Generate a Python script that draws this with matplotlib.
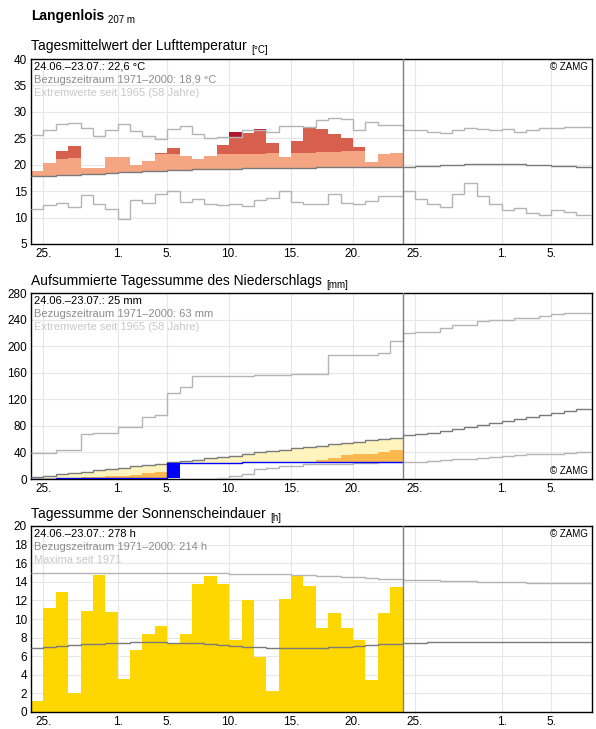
import matplotlib
matplotlib.use("Agg")
import matplotlib.pyplot as plt
import numpy as np

plt.rcParams['font.family'] = ['Liberation Sans', 'DejaVu Sans']

# ---------------- data ----------------
x_tick_pos = [1, 7, 11, 16, 21, 26, 31, 38, 42]
x_tick_lbl = ["25.", "1.", "5.", "10.", "15.", "20.", "25.", "1.", "5."]

temp_value = [18.9, 20.4, 22.5, 23.6, 19.4, 19.4, 21.5, 21.5, 20.0, 20.7, 22.2, 23.2, 21.65, 21.1, 21.65,
              23.8, 26.25, 26.05, 26.75, 24.1, 21.45, 24.4, 27.2, 26.75, 25.8, 25.05, 23.35, 20.5, 22.0, 22.2]
temp_upper = [18.9, 20.4, 21.1, 21.3, 19.4, 19.4, 21.5, 21.5, 20.0, 20.7, 22.0, 22.0, 21.65, 21.1, 21.65,
              22.0, 22.0, 22.0, 22.0, 22.2, 21.45, 22.2, 22.2, 22.4, 22.4, 22.6, 22.6, 20.5, 22.0, 22.2]
temp_mean = [17.9, 17.9, 18.0, 18.1, 18.2, 18.3, 18.4, 18.6, 18.7, 18.8, 18.9, 19.0, 19.0, 19.1, 19.1,
             19.2, 19.2, 19.3, 19.3, 19.3, 19.4, 19.4, 19.4, 19.5, 19.5, 19.5, 19.5, 19.5, 19.5, 19.5,
             19.6, 19.7, 19.8, 19.9, 20.0, 20.1, 20.1, 20.2, 20.2, 20.1, 20.0, 19.9, 19.8, 19.7, 19.6, 19.6]
temp_max = [25.6, 26.6, 27.7, 27.9, 26.9, 25.4, 26.6, 27.7, 26.4, 25.4, 24.9, 26.8, 27.3, 25.8, 25.0,
            25.3, 25.3, 26.6, 26.6, 26.2, 27.3, 27.3, 27.1, 28.4, 28.8, 28.6, 26.6, 28.1, 27.5, 27.5,
            26.6, 26.6, 26.2, 26.0, 26.5, 27.0, 26.8, 26.5, 26.8, 26.2, 26.5, 27.0, 27.0, 27.2, 27.2, 27.2]
temp_min = [11.6, 12.4, 12.8, 12.0, 14.3, 12.6, 11.6, 9.7, 13.3, 12.8, 14.5, 15.0, 12.9, 13.5, 12.6,
            12.4, 12.6, 12.2, 13.3, 13.7, 15.0, 12.9, 12.6, 12.6, 14.5, 12.8, 12.6, 13.1, 14.1, 14.1,
            15.0, 13.5, 12.5, 12.0, 14.5, 16.5, 14.0, 12.5, 11.5, 11.8, 10.8, 10.5, 11.5, 11.0, 10.5, 10.5]

prec_cum = [0, 0, 1, 1, 1, 1, 1, 1, 1, 1, 1, 24, 24, 24, 24, 24, 24, 25, 25, 25, 25, 25, 25, 25, 25,
            25, 25, 25, 25, 25]
prec_lower = [0, 0, 1.5, 2, 3, 3.5, 4.5, 5, 6, 8.5, 10.5, 12, 13, 14, 15, 16, 17, 18, 19, 21, 23,
              24, 24.5, 28, 32, 36, 38, 38, 40, 44]
prec_mean = [3, 5, 7, 9, 11, 13, 15, 17, 19, 21, 23, 25, 27, 29, 31, 33, 35, 38, 40, 42, 44, 46, 48,
             50, 52, 54, 56, 58, 60, 62, 66, 68, 70, 73, 76, 79, 82, 85, 88, 91, 94, 97, 100, 103, 105, 106]
prec_max = [39, 39, 43, 43, 67, 69, 69, 79, 79, 94, 96, 130, 138, 155, 155, 155, 155, 155, 156, 156,
            156, 158, 158, 158, 186, 186, 186, 186, 189, 207, 220, 222, 222, 228, 232, 232, 238, 240,
            240, 242, 242, 246, 248, 250, 250, 250]
prec_min = [0, 0, 0, 0, 0, 0, 0, 0, 0.5, 0.5, 0.5, 0.5, 0.5, 0.5, 0.5, 2, 5, 8, 15, 17, 20, 20, 22, 22,
            23, 23, 24, 24, 25, 26, 26, 26, 27, 28, 30, 30, 31, 33, 35, 36, 37, 37, 38, 39, 40, 40]

sun_value = [1.2, 11.2, 12.9, 2.0, 10.9, 14.7, 10.8, 3.5, 6.7, 8.4, 9.2, 7.3, 8.4, 13.8, 14.6, 13.8,
             7.7, 12.0, 5.9, 2.3, 12.1, 14.7, 13.5, 9.0, 10.6, 9.0, 7.7, 3.4, 10.6, 13.4]
sun_mean = [6.9, 7.0, 7.1, 7.2, 7.3, 7.3, 7.4, 7.4, 7.5, 7.5, 7.5, 7.4, 7.4, 7.4, 7.3, 7.2, 7.1, 7.0,
            7.0, 6.9, 6.9, 6.9, 6.9, 6.9, 7.0, 7.0, 7.1, 7.2, 7.3, 7.3, 7.4, 7.4, 7.5, 7.5, 7.5, 7.5,
            7.5, 7.5, 7.5, 7.5, 7.5, 7.5, 7.5, 7.5, 7.5, 7.5]
sun_max = [15.0, 15.0, 15.0, 15.0, 15.0, 15.0, 15.0, 15.0, 15.0, 15.0, 15.0, 14.9, 14.9, 14.9, 14.9,
           14.9, 14.8, 14.8, 14.8, 14.8, 14.8, 14.7, 14.7, 14.6, 14.6, 14.5, 14.5, 14.4, 14.3, 14.3,
           14.2, 14.2, 14.2, 14.1, 14.1, 14.1, 14.0, 14.0, 14.0, 14.0, 13.9, 13.9, 13.9, 13.9, 13.9, 13.9]

# ---------------- style ----------------
XMAX = 45.3
NOW = 30
C_MAXMIN = "#b4b4b4"
C_MEAN = "#7a7a7a"
LW = 1.0

fig = plt.figure(figsize=(5.96, 7.29), dpi=100)
W, H = 596, 729


def add_ax(top, bottom):
    return fig.add_axes([31 / W, 1 - bottom / H, (592 - 31) / W, (bottom - top) / H])


def style(ax, ylim, yticks):
    ax.set_xlim(0, XMAX)
    ax.set_ylim(*ylim)
    ax.set_yticks(yticks)
    ax.set_xticks(x_tick_pos)
    ax.set_xticklabels(x_tick_lbl)
    ax.grid(True, color="#e6e6e6", lw=0.8, zorder=0)
    ax.set_axisbelow(True)
    ax.tick_params(labelsize=8.5, length=0, pad=3)
    for s in ax.spines.values():
        s.set_linewidth(1.0)
    ax.axvline(NOW, color="#808080", lw=1.0, zorder=6)


def info(ax, l1, l2, l3):
    ax.text(0.006, 0.985, l1, transform=ax.transAxes, fontsize=8, va="top", color="black", zorder=7)
    ax.text(0.006, 0.915, l2, transform=ax.transAxes, fontsize=8, va="top", color="#8c8c8c", zorder=7)
    ax.text(0.006, 0.845, l3, transform=ax.transAxes, fontsize=8, va="top", color="#c8c8c8", zorder=7)


def title(y, main, unit, size=10, bold=False):
    t = fig.text(31 / W, 1 - y / H, main, fontsize=size, va="baseline",
                 fontweight="bold" if bold else "normal")
    fig.text(0, 0, unit, fontsize=7, va="baseline", transform=None)
    fig.texts[-1].remove()
    plt.annotate(unit, xy=(1, 0), xycoords=t, xytext=(3, 0), textcoords="offset points",
                 fontsize=7, va="baseline", annotation_clip=False)


edges_all = np.arange(len(temp_mean) + 1)
days = np.arange(len(temp_value))

# ---- temperature ----
ax1 = add_ax(59, 244)
title(20, "Langenlois", "207 m", bold=True)
style(ax1, (5, 40), range(5, 41, 5))
tv = np.array(temp_value); tu = np.array(temp_upper); tm = np.array(temp_mean[:30]); tx = np.array(temp_max[:30])
light_top = np.minimum(tv, tu)
ax1.bar(days, light_top - tm, bottom=tm, width=1, align="edge", color="#f4a582", lw=0, zorder=2)
dark_top = np.minimum(tv, np.maximum(tx, tu))
ax1.bar(days, np.clip(dark_top - tu, 0, None), bottom=tu, width=1, align="edge", color="#d6604d", lw=0, zorder=2)
ex_bot = np.maximum(tx, tu)
ax1.bar(days, np.clip(tv - ex_bot, 0, None), bottom=ex_bot, width=1, align="edge", color="#b2182b", lw=0, zorder=2)
ax1.stairs(temp_max, edges_all, color=C_MAXMIN, lw=LW, baseline=None, zorder=3)
ax1.stairs(temp_min, edges_all, color=C_MAXMIN, lw=LW, baseline=None, zorder=3)
ax1.stairs(temp_mean, edges_all, color=C_MEAN, lw=LW, baseline=None, zorder=4)
info(ax1, "24.06.–23.07.: 22,6 °C", "Bezugszeitraum 1971–2000: 18,9 °C", "Extremwerte seit 1965 (58 Jahre)")
ax1.text(0.992, 0.985, "© ZAMG", transform=ax1.transAxes, fontsize=7, ha="right", va="top")
title(50, "Tagesmittelwert der Lufttemperatur", "[°C]")

# ---- precipitation ----
ax2 = add_ax(293, 479)
style(ax2, (0, 280), range(0, 281, 40))
pc = np.array(prec_cum, float); pl = np.array(prec_lower, float); pm = np.array(prec_mean[:30], float)
orange_top = np.maximum(pc, pl)
ax2.bar(days, orange_top - pc, bottom=pc, width=1, align="edge", color="#fdb94d", lw=0, zorder=2)
ax2.bar(days, np.clip(pm - orange_top, 0, None), bottom=orange_top, width=1, align="edge",
        color="#fff4bd", lw=0, zorder=2)
daily = np.diff(np.concatenate([[0], pc]))
big = daily > 10
ax2.bar(days[big], daily[big], bottom=pc[big] - daily[big], width=1, align="edge", color="#0000ff", lw=0, zorder=3)
ax2.stairs(prec_max, edges_all, color=C_MAXMIN, lw=LW, baseline=None, zorder=3)
ax2.stairs(prec_min, edges_all, color=C_MAXMIN, lw=LW, baseline=None, zorder=3)
ax2.stairs(prec_mean, edges_all, color=C_MEAN, lw=LW, baseline=None, zorder=4)
ax2.stairs(prec_cum, np.arange(31), color="#0000ff", lw=LW, baseline=None, zorder=5)
info(ax2, "24.06.–23.07.: 25 mm", "Bezugszeitraum 1971–2000: 63 mm", "Extremwerte seit 1965 (58 Jahre)")
ax2.text(0.992, 0.015, "© ZAMG", transform=ax2.transAxes, fontsize=7, ha="right", va="bottom")
title(285, "Aufsummierte Tagessumme des Niederschlags", "[mm]")

# ---- sunshine ----
ax3 = add_ax(526, 712)
style(ax3, (0, 20), range(0, 21, 2))
ax3.bar(days, sun_value, width=1, align="edge", color="#ffd700", lw=0, zorder=2)
ax3.stairs(sun_max, edges_all, color=C_MAXMIN, lw=LW, baseline=None, zorder=3)
ax3.stairs(sun_mean, edges_all, color=C_MEAN, lw=LW, baseline=None, zorder=4)
info(ax3, "24.06.–23.07.: 278 h", "Bezugszeitraum 1971–2000: 214 h", "Maxima seit 1971")
ax3.text(0.992, 0.985, "© ZAMG", transform=ax3.transAxes, fontsize=7, ha="right", va="top")
title(518, "Tagessumme der Sonnenscheindauer", "[h]")

fig.savefig("out.png", dpi=100)
